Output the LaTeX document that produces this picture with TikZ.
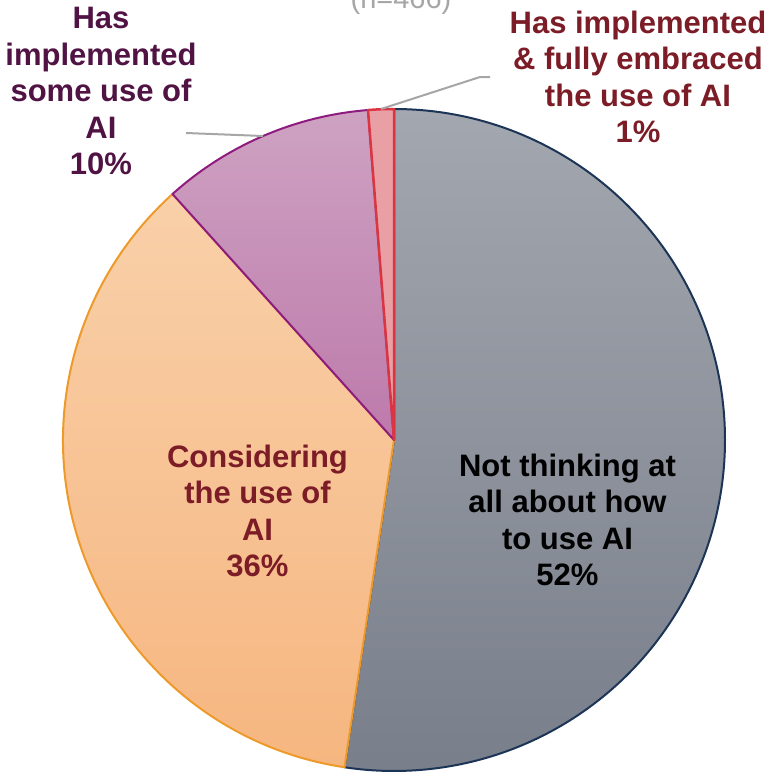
\documentclass[tikz,border=0pt]{standalone}
\usepackage{fontspec}
\setmainfont{Liberation Sans}
\definecolor{grayTop}{HTML}{A3A7AF}
\definecolor{grayBot}{HTML}{787E8A}
\definecolor{navyEdge}{HTML}{1C3557}
\definecolor{orTop}{HTML}{F9D0A9}
\definecolor{orBot}{HTML}{F6B680}
\definecolor{orEdge}{HTML}{EE9A2A}
\definecolor{puTop}{HTML}{CEA2C2}
\definecolor{puBot}{HTML}{BD7AAB}
\definecolor{puEdge}{HTML}{8E1C7E}
\definecolor{rdFill}{HTML}{E9A0A5}
\definecolor{rdEdge}{HTML}{DA3542}
\definecolor{purpleText}{HTML}{501343}
\definecolor{redText}{HTML}{7B1C26}
\definecolor{leaderGray}{HTML}{A6A6A6}
\begin{document}
\begin{tikzpicture}[x=1pt,y=-1pt,
  slice/.style={line width=2pt, line join=round},
  lbl/.style={font=\bfseries\fontsize{31}{36.5}\selectfont, align=center, inner sep=0pt},
  leader/.style={draw=leaderGray, line width=2pt}]
\useasboundingbox (0,0) rectangle (770,772);
\coordinate (c) at (394,440);
% slices
\draw[slice, draw=navyEdge, top color=grayTop, bottom color=grayBot]
  (c) -- ++(-90:331) arc[start angle=-90, end angle=98.6, radius=331] -- cycle;
\draw[slice, draw=orEdge, top color=orTop, bottom color=orBot]
  (c) -- ++(98.6:331) arc[start angle=98.6, end angle=228, radius=331] -- cycle;
\draw[slice, draw=puEdge, top color=puTop, bottom color=puBot]
  (c) -- ++(228:331) arc[start angle=228, end angle=265.5, radius=331] -- cycle;
\draw[slice, draw=rdEdge, fill=rdFill, line width=2.5pt]
  (c) -- ++(265.5:331) arc[start angle=265.5, end angle=270, radius=331] -- cycle;
% title (cut off at top)
\node[font=\fontsize{29}{34}\selectfont, text=leaderGray, anchor=base, inner sep=0pt] (title) at (401,8) {(n=466)};
% labels
\node[lbl, text=purpleText] (l10) at (101,91) {Has\\implemented\\some use of\\AI\\10\%};
\node[lbl, text=redText] (l1) at (638,77) {Has implemented\\\& fully embraced\\the use of AI\\1\%};
\node[lbl, text=redText] (l36) at (257.5,511) {Considering\\the use of\\AI\\36\%};
\node[lbl, text=black] (l52) at (567.5,520) {Not thinking at\\all about how\\to use AI\\52\%};
% leaders
\coordinate (a10) at (186,133);
\coordinate (e10) at (263,136);
\draw[leader] (a10) -- (e10);
\coordinate (a1) at (490,77);
\coordinate (k1) at (480,77);
\coordinate (e1) at (381,109);
\draw[leader] (a1) -- (k1) -- (e1);
\end{tikzpicture}
\end{document}
